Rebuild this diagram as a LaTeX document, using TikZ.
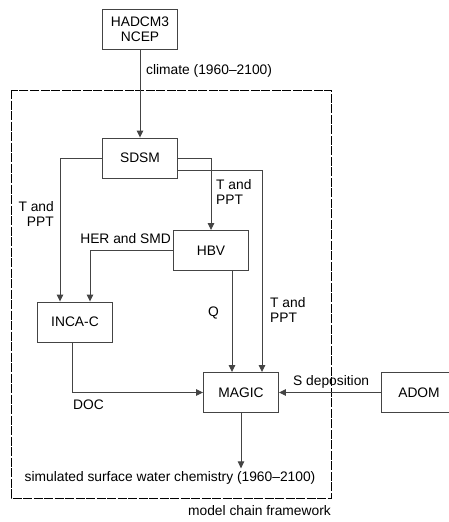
\documentclass[tikz,border=0pt]{standalone}
\usepackage{fontspec}
\setmainfont{Liberation Sans}
\usepackage{xcolor}
\usetikzlibrary{arrows.meta}
\definecolor{cline}{HTML}{444444}

\begin{document}
\begin{tikzpicture}[x=1pt,y=-1pt,>={Triangle[length=7pt,width=6.5pt]},
  font=\fontsize{13.8}{15.5}\selectfont,
  model/.style={draw=cline,line width=0.9pt,minimum width=75pt,minimum height=40pt,inner sep=0pt,align=center},
  flow/.style={->,draw=cline,line width=0.9pt},
  lbl/.style={inner sep=0pt}]
  \useasboundingbox (0,0) rectangle (449,522);
  % framework
  \draw[line width=0.8pt,dash pattern=on 9pt off 1.5pt] (11,90) rectangle (331,498);
  \node[lbl,anchor=north east] (framework) at (331,505) {model chain framework};
  % models
  \node[model] (gcm) at (140,29) {HADCM3\\NCEP};
  \node[model] (sdsm) at (140,158) {SDSM};
  \node[model] (hbv) at (211,250.5) {HBV};
  \node[model] (inca) at (75,322) {INCA-C};
  \node[model] (magic) at (241,392.5) {MAGIC};
  \node[model] (adom) at (419,392.5) {ADOM};
  \node[lbl] (chem) at (170,478) {simulated surface water chemistry (1960--2100)};
  % connectors
  \draw[flow] (gcm.south) -- (sdsm.north);
  \draw[flow] (sdsm.west) -| ([xshift=-15pt]inca.north);
  \draw[flow] (sdsm.east) -| (hbv.north);
  \draw[flow] ([yshift=-12pt]sdsm.east) -| ([xshift=21pt]magic.north);
  \draw[flow] (hbv.west) -| ([xshift=15pt]inca.north);
  \draw[flow] ([xshift=21pt]hbv.south) -- ([xshift=21pt]hbv.south |- magic.north);
  \draw[flow] ([xshift=-3pt]inca.south) |- (magic.west);
  \draw[flow] (adom.west) -- (magic.east);
  \draw[flow] (magic.south) -- ([yshift=3pt]magic.south |- chem.north);
  % labels
  \node[lbl,anchor=west] at (146,71) {climate (1960--2100)};
  \node[lbl,anchor=east,align=right] at (54,214) {T and\\PPT};
  \node[lbl,anchor=west,align=left] at (216,192) {T and\\PPT};
  \node[lbl,anchor=east] at (171,239) {HER and SMD};
  \node[lbl] at (213.5,313) {Q};
  \node[lbl,anchor=west,align=left] at (270,310) {T and\\PPT};
  \node[lbl,anchor=west] at (73,405) {DOC};
  \node[lbl,anchor=west] at (293,382) {S deposition};
\end{tikzpicture}
\end{document}
